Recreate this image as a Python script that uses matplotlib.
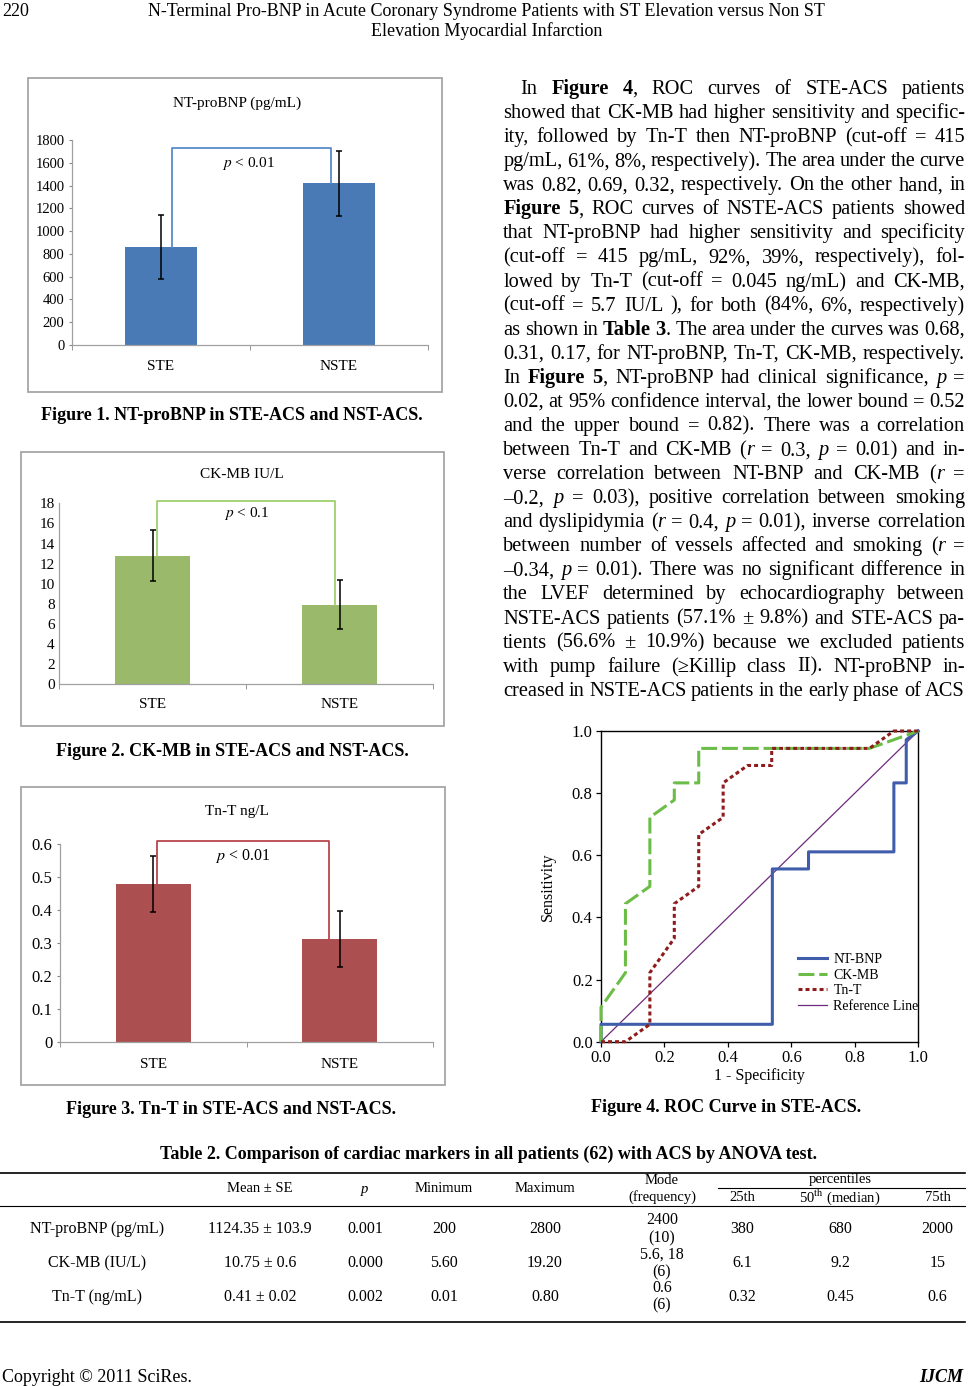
"""Rebuild of the journal page: three bar panels, ROC curve, body text and Table 2."""

import re

import matplotlib
import numpy as np

matplotlib.use("Agg")
from matplotlib import pyplot as plt  # noqa: E402
from matplotlib.patches import Rectangle  # noqa: E402

plt.rcParams["font.family"] = ["Liberation Serif", "DejaVu Serif"]
plt.rcParams["mathtext.fontset"] = "stix"

W, H = 970, 1386

# ---- bar chart data (mean and error bar half-width) ----
groups = ["STE", "NSTE"]
ntprobnp_mean = [860, 1420]
ntprobnp_err = [280, 285]
ckmb_mean = [12.8, 7.9]
ckmb_err = [2.55, 2.45]
tnt_mean = [0.478, 0.311]
tnt_err = [0.085, 0.085]

# ---- ROC curves in STE-ACS ----
ntbnp_fpr = [0, 0, 0.54, 0.54, 0.654, 0.654, 0.923, 0.923, 0.962, 0.962, 1]
ntbnp_tpr = [0, 0.056, 0.056, 0.556, 0.556, 0.611, 0.611, 0.833, 0.833, 0.972, 1]
ckmb_fpr = [0, 0, 0.077, 0.077, 0.154, 0.154, 0.231, 0.231, 0.308, 0.308, 0.846, 1]
ckmb_tpr = [0, 0.111, 0.222, 0.444, 0.5, 0.722, 0.778, 0.833, 0.833, 0.944, 0.944, 1]
tnt_fpr = [0, 0.077, 0.154, 0.154, 0.231, 0.231, 0.308, 0.308, 0.385, 0.385, 0.462, 0.538, 0.538, 0.846, 0.923, 1]
tnt_tpr = [0, 0, 0.056, 0.222, 0.333, 0.444, 0.5, 0.667, 0.722, 0.833, 0.889, 0.889, 0.944, 0.944, 1, 1]
reference_line = [0, 1]

# ---- Table 2 ----
table_rows = ["NT-proBNP (pg/mL)", "CK-MB (IU/L)", "Tn-T (ng/mL)"]
mean_se = ["1124.35 ± 103.9", "10.75 ± 0.6", "0.41 ± 0.02"]
p_vals = ["0.001", "0.000", "0.002"]
minimum = ["200", "5.60", "0.01"]
maximum = ["2800", "19.20", "0.80"]
mode_val = ["2400", "5.6, 18", "0.6"]
mode_freq = ["(10)", "(6)", "(6)"]
pct25 = ["380", "6.1", "0.32"]
pct50 = ["680", "9.2", "0.45"]
pct75 = ["2000", "15", "0.6"]

body_lines = [
    "In **Figure** **4**, ROC curves of STE-ACS patients",
    "showed that CK-MB had higher sensitivity and specific-",
    "ity, followed by Tn-T then NT-proBNP (cut-off = 415",
    "pg/mL, 61%, 8%, respectively). The area under the curve",
    "was 0.82, 0.69, 0.32, respectively. On the other hand, in",
    "**Figure** **5**, ROC curves of NSTE-ACS patients showed",
    "that NT-proBNP had higher sensitivity and specificity",
    "(cut-off = 415 pg/mL, 92%, 39%, respectively), fol-",
    "lowed by Tn-T (cut-off = 0.045 ng/mL) and CK-MB,",
    "(cut-off = 5.7 IU/L ), for both (84%, 6%, respectively)",
    "as shown in **Table** **3**. The area under the curves was 0.68,",
    "0.31, 0.17, for NT-proBNP, Tn-T, CK-MB, respectively.",
    "In **Figure** **5**, NT-proBNP had clinical significance, *p* =",
    "0.02, at 95% confidence interval, the lower bound = 0.52",
    "and the upper bound = 0.82). There was a correlation",
    "between Tn-T and CK-MB (*r* = 0.3, *p* = 0.01) and in-",
    "verse correlation between NT-BNP and CK-MB (*r* =",
    "–0.2, *p* = 0.03), positive correlation between smoking",
    "and dyslipidymia (*r* = 0.4, *p* = 0.01), inverse correlation",
    "between number of vessels affected and smoking (*r* =",
    "–0.34, *p* = 0.01). There was no significant difference in",
    "the LVEF determined by echocardiography between",
    "NSTE-ACS patients (57.1% ± 9.8%) and STE-ACS pa-",
    "tients (56.6% ± 10.9%) because we excluded patients",
    "with pump failure (≥Killip class II). NT-proBNP in-",
    "creased in NSTE-ACS patients in the early phase of ACS",
]


def px_rect(x0, y0, x1, y1):
    return [x0 / W, 1 - y1 / H, (x1 - x0) / W, (y1 - y0) / H]


def bar_panel(fig, rect, means, errs, ymax, ystep, color, bracket_color, bracket_top, bracket_dx,
              show_yticks, ytick_size, xpad):
    ax = fig.add_axes(rect)
    x = np.arange(len(groups))
    ax.bar(x, means, width=0.4, color=color, zorder=2)
    ax.errorbar(x, means, yerr=errs, fmt="none", ecolor="black", elinewidth=1.1, capsize=2.5, capthick=1.1, zorder=4)
    ax.plot(
        [x[0] + bracket_dx[0], x[0] + bracket_dx[0], x[1] + bracket_dx[1], x[1] + bracket_dx[1]],
        [means[0], bracket_top, bracket_top, means[1]],
        color=bracket_color, lw=1.3, clip_on=False, zorder=3,
    )
    ax.set_xlim(-0.5, 1.5)
    ax.set_ylim(0, ymax)
    yt = np.arange(0, ymax + ystep / 2, ystep)
    ax.set_yticks(yt)
    ax.set_yticklabels([f"{v:g}" for v in yt], fontsize=ytick_size)
    ax.set_xticks(x)
    ax.set_xticklabels(groups, fontsize=11)
    ax.set_xticks([-0.5, 0.5, 1.5], minor=True)
    ax.tick_params(axis="x", which="major", length=0, pad=xpad)
    ax.tick_params(axis="x", which="minor", length=3.5, color="#868686")
    ax.tick_params(axis="y", length=2.5 if show_yticks else 0, color="#868686", pad=3)
    for side in ("top", "right"):
        ax.spines[side].set_visible(False)
    for side in ("left", "bottom"):
        ax.spines[side].set_color("#a0a0a0")
        ax.spines[side].set_linewidth(0.9)
    return ax


def segments(word):
    out = []
    for m in re.finditer(r"\*\*(.+?)\*\*|\*(.+?)\*|([^*]+)", word):
        if m.group(1):
            out.append((m.group(1), "bold"))
        elif m.group(2):
            out.append((m.group(2), "italic"))
        else:
            out.append((m.group(3), "normal"))
    return out


def justified_line(ax, renderer, line, x0, x1, y, size):
    words = []
    for word in line.split():
        parts = []
        for txt, style in segments(word):
            t = ax.text(
                0, y, txt, fontsize=size, va="baseline", ha="left",
                fontweight="bold" if style == "bold" else "normal",
                fontstyle="italic" if style == "italic" else "normal",
            )
            parts.append((t, t.get_window_extent(renderer).width))
        words.append(parts)
    total = sum(w for parts in words for _, w in parts)
    gap = (x1 - x0 - total) / max(len(words) - 1, 1)
    x = x0
    for parts in words:
        for t, w in parts:
            t.set_x(x)
            x += w
        x += gap


fig = plt.figure(figsize=(W / 100, H / 100), dpi=100)
fig.patch.set_facecolor("white")

# ---- Figures 1-3 ----
bar_panel(fig, px_rect(72, 140, 428, 345), ntprobnp_mean, ntprobnp_err, 1800, 200,
          "#4a7ab5", "#5b8bcb", 1733, (0.06, -0.047), True, 10.5, 11)
bar_panel(fig, px_rect(59, 503.3, 433, 684.3), ckmb_mean, ckmb_err, 18, 2,
          "#9bb96a", "#9fd06e", 18.2, (0.024, -0.024), False, 11, 10)
bar_panel(fig, px_rect(60, 844.3, 433, 1041.7), tnt_mean, tnt_err, 0.6, 0.1,
          "#ac4f50", "#b8474c", 0.61, (0.022, -0.056), True, 12, 12)

# ---- Figure 4: ROC ----
roc = fig.add_axes(px_rect(601, 731, 918.3, 1041.7))
roc.plot(reference_line, reference_line, color="#6e2a7c", lw=0.9, label="Reference Line", zorder=2)
roc.plot(ntbnp_fpr, ntbnp_tpr, color="#3f5daa", lw=2.2, label="NT-BNP", clip_on=False, zorder=3)
roc.plot(ckmb_fpr, ckmb_tpr, color="#6cbd48", lw=2.2, dashes=(5.2, 1.6), label="CK-MB", clip_on=False, zorder=3)
roc.plot(tnt_fpr, tnt_tpr, color="#8e1c1c", lw=2.2, dashes=(1.3, 1.0), label="Tn-T", clip_on=False, zorder=3)
roc.set_xlim(0, 1)
roc.set_ylim(0, 1)
ticks = np.arange(0, 1.01, 0.2)
roc.set_xticks(ticks)
roc.set_yticks(ticks)
roc.set_xticklabels([f"{v:.1f}" for v in ticks], fontsize=12)
roc.set_yticklabels([f"{v:.1f}" for v in ticks], fontsize=12)
roc.tick_params(length=3.5, width=0.9, pad=2.5)
for s in roc.spines.values():
    s.set_linewidth(1.0)
roc.text(-0.167, 0.5, "Sensitivity", rotation=90, transform=roc.transAxes, ha="center", va="center", fontsize=11.5)
roc.text(0.5, -0.112, "1 - Specificity", transform=roc.transAxes, ha="center", va="center", fontsize=11.5)
handles, labels = roc.get_legend_handles_labels()
order = [1, 2, 3, 0]
roc.legend([handles[i] for i in order], [labels[i] for i in order], loc="upper left",
           bbox_to_anchor=(0.621, 0.285), frameon=False, fontsize=10, handlelength=2.1,
           handletextpad=0.45, labelspacing=0.18, borderpad=0, borderaxespad=0)

# ---- page overlay: text, frames, table ----
ov = fig.add_axes([0, 0, 1, 1])
ov.set_xlim(0, W)
ov.set_ylim(H, 0)
ov.axis("off")

for x0, y0, x1, y1 in [(28, 78, 442, 392), (21, 452, 444, 726), (21, 787, 445, 1085)]:
    ov.add_patch(Rectangle((x0, y0), x1 - x0, y1 - y0, fill=False, ec="#a6a6a6", lw=1.3))

ov.text(237, 103, "NT-proBNP (pg/mL)", ha="center", va="center", fontsize=11)
ov.text(242, 475, "CK-MB IU/L", ha="center", va="center", fontsize=11)
ov.text(237, 812, "Tn-T ng/L", ha="center", va="center", fontsize=11)
ov.text(248, 164, "$\\it{p}$ < 0.01", ha="center", va="center", fontsize=11)
ov.text(247, 513, "$\\it{p}$ < 0.1", ha="center", va="center", fontsize=11)
ov.text(243, 856, "$\\it{p}$ < 0.01", ha="center", va="center", fontsize=11.5)

# header / footer
ov.text(2, 12, "220", ha="left", va="center", fontsize=13)
ov.text(486, 12, "N-Terminal Pro-BNP in Acute Coronary Syndrome Patients with ST Elevation versus Non ST",
        ha="center", va="center", fontsize=13)
ov.text(487, 31, "Elevation Myocardial Infarction", ha="center", va="center", fontsize=13)
ov.text(2, 1377, "Copyright © 2011 SciRes.", ha="left", va="center", fontsize=13)
ov.text(963, 1377, "IJCM", ha="right", va="center", fontsize=13, fontweight="bold", fontstyle="italic")

# captions
cap = dict(ha="center", va="center", fontsize=13, fontweight="bold")
ov.text(232, 416, "Figure 1. NT-proBNP in STE-ACS and NST-ACS.", **cap)
ov.text(232, 751, "Figure 2. CK-MB in STE-ACS and NST-ACS.", **cap)
ov.text(231, 1109, "Figure 3. Tn-T in STE-ACS and NST-ACS.", **cap)
ov.text(726, 1108, "Figure 4. ROC Curve in STE-ACS.", **cap)

# justified body text
renderer = fig.canvas.get_renderer()
for i, line in enumerate(body_lines):
    x_start = 520.7 if i == 0 else 503.3
    justified_line(ov, renderer, line, x_start, 965, 94 + 24.07 * i, 14.7)

# table
ov.text(489, 1154, "Table 2. Comparison of cardiac markers in all patients (62) with ACS by ANOVA test.", **cap)
ov.plot([0, 965], [1172.7, 1172.7], color="black", lw=1.2)
ov.plot([718, 965], [1188, 1188], color="black", lw=0.8)
ov.plot([0, 965], [1206, 1206], color="black", lw=0.8)
ov.plot([0, 965], [1321.7, 1321.7], color="black", lw=1.2)
hk = dict(ha="center", va="center", fontsize=10.5)
tk = dict(ha="center", va="center", fontsize=11.5)
col_x = [97, 260, 365, 444, 545, 662, 742.6, 840, 937.5]
ov.text(col_x[1], 1189, "Mean ± SE", **hk)
ov.text(col_x[2], 1189, "p", style="italic", **hk)
ov.text(col_x[3], 1189, "Minimum", **hk)
ov.text(col_x[4], 1189, "Maximum", **hk)
ov.text(col_x[5], 1181, "Mode", **hk)
ov.text(col_x[5], 1197, "(frequency)", **hk)
ov.text(840, 1180, "percentiles", **hk)
ov.text(col_x[6], 1197.5, "25th", **hk)
ov.text(col_x[7], 1197.5, "50$^{\\mathrm{th}}$ (median)", **hk)
ov.text(col_x[8], 1197.5, "75th", **hk)
row_y = [1229.3, 1263.3, 1296.7]
for i, y in enumerate(row_y):
    ov.text(col_x[0], y, table_rows[i], **tk)
    ov.text(col_x[1], y, mean_se[i], **tk)
    ov.text(col_x[2], y, p_vals[i], **tk)
    ov.text(col_x[3], y, minimum[i], **tk)
    ov.text(col_x[4], y, maximum[i], **tk)
    ov.text(col_x[5], y - 9, mode_val[i], **tk)
    ov.text(col_x[5], y + 9, mode_freq[i], **tk)
    ov.text(col_x[6], y, pct25[i], **tk)
    ov.text(col_x[7], y, pct50[i], **tk)
    ov.text(col_x[8], y, pct75[i], **tk)

fig.savefig("out.png", dpi=100)
